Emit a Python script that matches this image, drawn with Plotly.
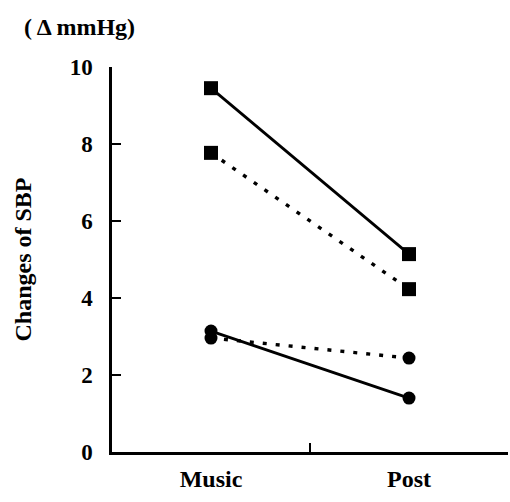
import plotly.graph_objects as go

categories = ["Music", "Post"]
cat_pos = [0.5, 1.5]
sq_solid = [9.45, 5.14]
sq_dot = [7.77, 4.23]
ci_solid = [3.14, 1.40]
ci_dot = [2.96, 2.44]
y_ticks = [0, 2, 4, 6, 8, 10]

font = "Liberation Serif"
fig = go.Figure()
series = [
    (sq_dot, "square", "dot"),
    (ci_dot, "circle", "dot"),
    (sq_solid, "square", "solid"),
    (ci_solid, "circle", "solid"),
]
for ys, sym, dash in series:
    fig.add_trace(go.Scatter(
        x=cat_pos, y=ys, mode="lines+markers",
        line=dict(color="black", width=2.8 if dash == "solid" else 3.4,
                  dash="solid" if dash == "solid" else "4px,9px"),
        marker=dict(symbol=sym, size=14 if sym == "square" else 13, color="black"),
        showlegend=False, cliponaxis=False))

fig.update_layout(
    width=510, height=502, margin=dict(l=112, r=2, t=67, b=50),
    plot_bgcolor="white", paper_bgcolor="white",
    font=dict(family=font, size=23, color="black", weight=700),
    xaxis=dict(range=[0, 2], tickvals=cat_pos, ticktext=categories, ticks="",
               showgrid=False, zeroline=False, showline=False,
               tickfont=dict(size=24, family=font, weight=700), ticklabelstandoff=10),
    xaxis2=dict(range=[0, 2], overlaying="x", tickvals=[0, 1, 2], ticks="inside",
                ticklen=9, tickwidth=2, tickcolor="black", showticklabels=False,
                showgrid=False, zeroline=False, showline=True, linecolor="black",
                linewidth=2.5, side="bottom", anchor="y"),
    yaxis=dict(range=[0, 10], tickvals=y_ticks, ticks="inside", ticklen=9,
               tickwidth=2, tickcolor="black", showgrid=False, zeroline=False,
               showline=True, linecolor="black", linewidth=2.5,
               tickfont=dict(size=23, family=font, weight=700), ticklabelstandoff=12,
               title=dict(text="Changes of SBP", font=dict(size=24, family=font, weight=700),
                          standoff=32)),
    annotations=[dict(text="( Δ mmHg)", xref="paper", yref="paper", x=-0.227, y=1.104,
                      xanchor="left", yanchor="middle", showarrow=False,
                      font=dict(size=24, family=font, weight=700))],
)
fig.add_trace(go.Scatter(x=[0], y=[0], xaxis="x2", mode="markers",
                         marker=dict(opacity=0), showlegend=False, hoverinfo="skip"))
fig.write_html("out.html")
